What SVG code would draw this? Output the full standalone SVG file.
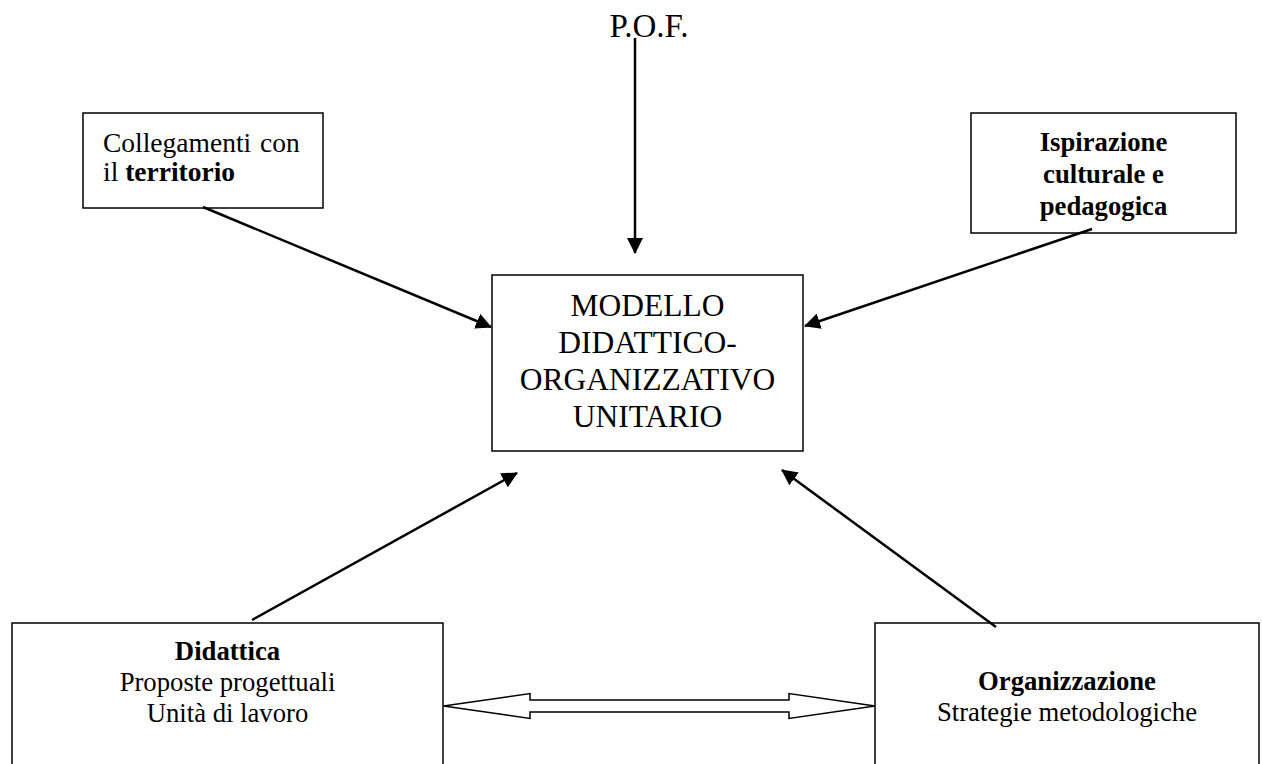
<svg xmlns="http://www.w3.org/2000/svg" width="1262" height="764" viewBox="0 0 1262 764">
<defs>
<style>
.box{fill:#fff;stroke:#000;stroke-width:1.5}
.t{font-family:"Liberation Serif","Times New Roman",serif;fill:#000}
.s{font-size:26.7px}
.b{font-weight:bold}
.big{font-size:31.5px}
.conn{stroke:#000;stroke-width:2.5;fill:none}
</style>
<marker id="ah" viewBox="0 0 16 16" refX="15" refY="8" markerWidth="16" markerHeight="16" markerUnits="userSpaceOnUse" orient="auto">
<path d="M0,0 L16,8 L0,16 Z" fill="#000"/>
</marker>
</defs>
<rect width="1262" height="764" fill="#fff"/>
<g id="pof">
<text class="t" style="font-size:33px" x="649" y="37" text-anchor="middle">P.O.F.</text>
</g>
<g id="collegamenti">
<rect class="box" x="83" y="113" width="240" height="95"/>
<text class="t" style="font-size:27.5px" x="103" y="152" word-spacing="2">Collegamenti con</text>
<text class="t" style="font-size:27.5px" x="103" y="181">il <tspan class="b">territorio</tspan></text>
</g>
<g id="ispirazione">
<rect class="box" x="971" y="113" width="265" height="120"/>
<text class="t s b" x="1103.5" text-anchor="middle"><tspan x="1103.5" y="151">Ispirazione</tspan><tspan x="1103.5" y="183">culturale e</tspan><tspan x="1103.5" y="215">pedagogica</tspan></text>
</g>
<g id="modello">
<rect class="box" x="492" y="275" width="311" height="176"/>
<text class="t big" text-anchor="middle"><tspan x="647.5" y="316">MODELLO</tspan><tspan x="647.5" y="353">DIDATTICO-</tspan><tspan x="647.5" y="390">ORGANIZZATIVO</tspan><tspan x="647.5" y="427">UNITARIO</tspan></text>
</g>
<g id="didattica">
<rect class="box" x="12" y="623" width="431" height="150"/>
<text class="t s" text-anchor="middle"><tspan class="b" x="227.5" y="660">Didattica</tspan><tspan x="227.5" y="691">Proposte progettuali</tspan><tspan x="227.5" y="722">Unità di lavoro</tspan></text>
</g>
<g id="organizzazione">
<rect class="box" x="875" y="623" width="384" height="150"/>
<text class="t s" text-anchor="middle"><tspan class="b" x="1067" y="690">Organizzazione</tspan><tspan x="1067" y="721">Strategie metodologiche</tspan></text>
</g>
<g id="connectors">
<line class="conn" x1="635" y1="38" x2="635" y2="253" marker-end="url(#ah)"/>
<line class="conn" x1="203" y1="207" x2="491" y2="327" marker-end="url(#ah)"/>
<line class="conn" x1="1092" y1="229" x2="805" y2="326" marker-end="url(#ah)"/>
<line class="conn" x1="252" y1="620" x2="517" y2="473" marker-end="url(#ah)"/>
<line class="conn" x1="996" y1="627" x2="782" y2="470" marker-end="url(#ah)"/>
<path d="M443.5,706 L530,693.5 L530,700 L789,700 L789,693.5 L875,706 L789,718.5 L789,712 L530,712 L530,718.5 Z" fill="#fff" stroke="#000" stroke-width="1.5" stroke-linejoin="miter"/>
</g>
</svg>
